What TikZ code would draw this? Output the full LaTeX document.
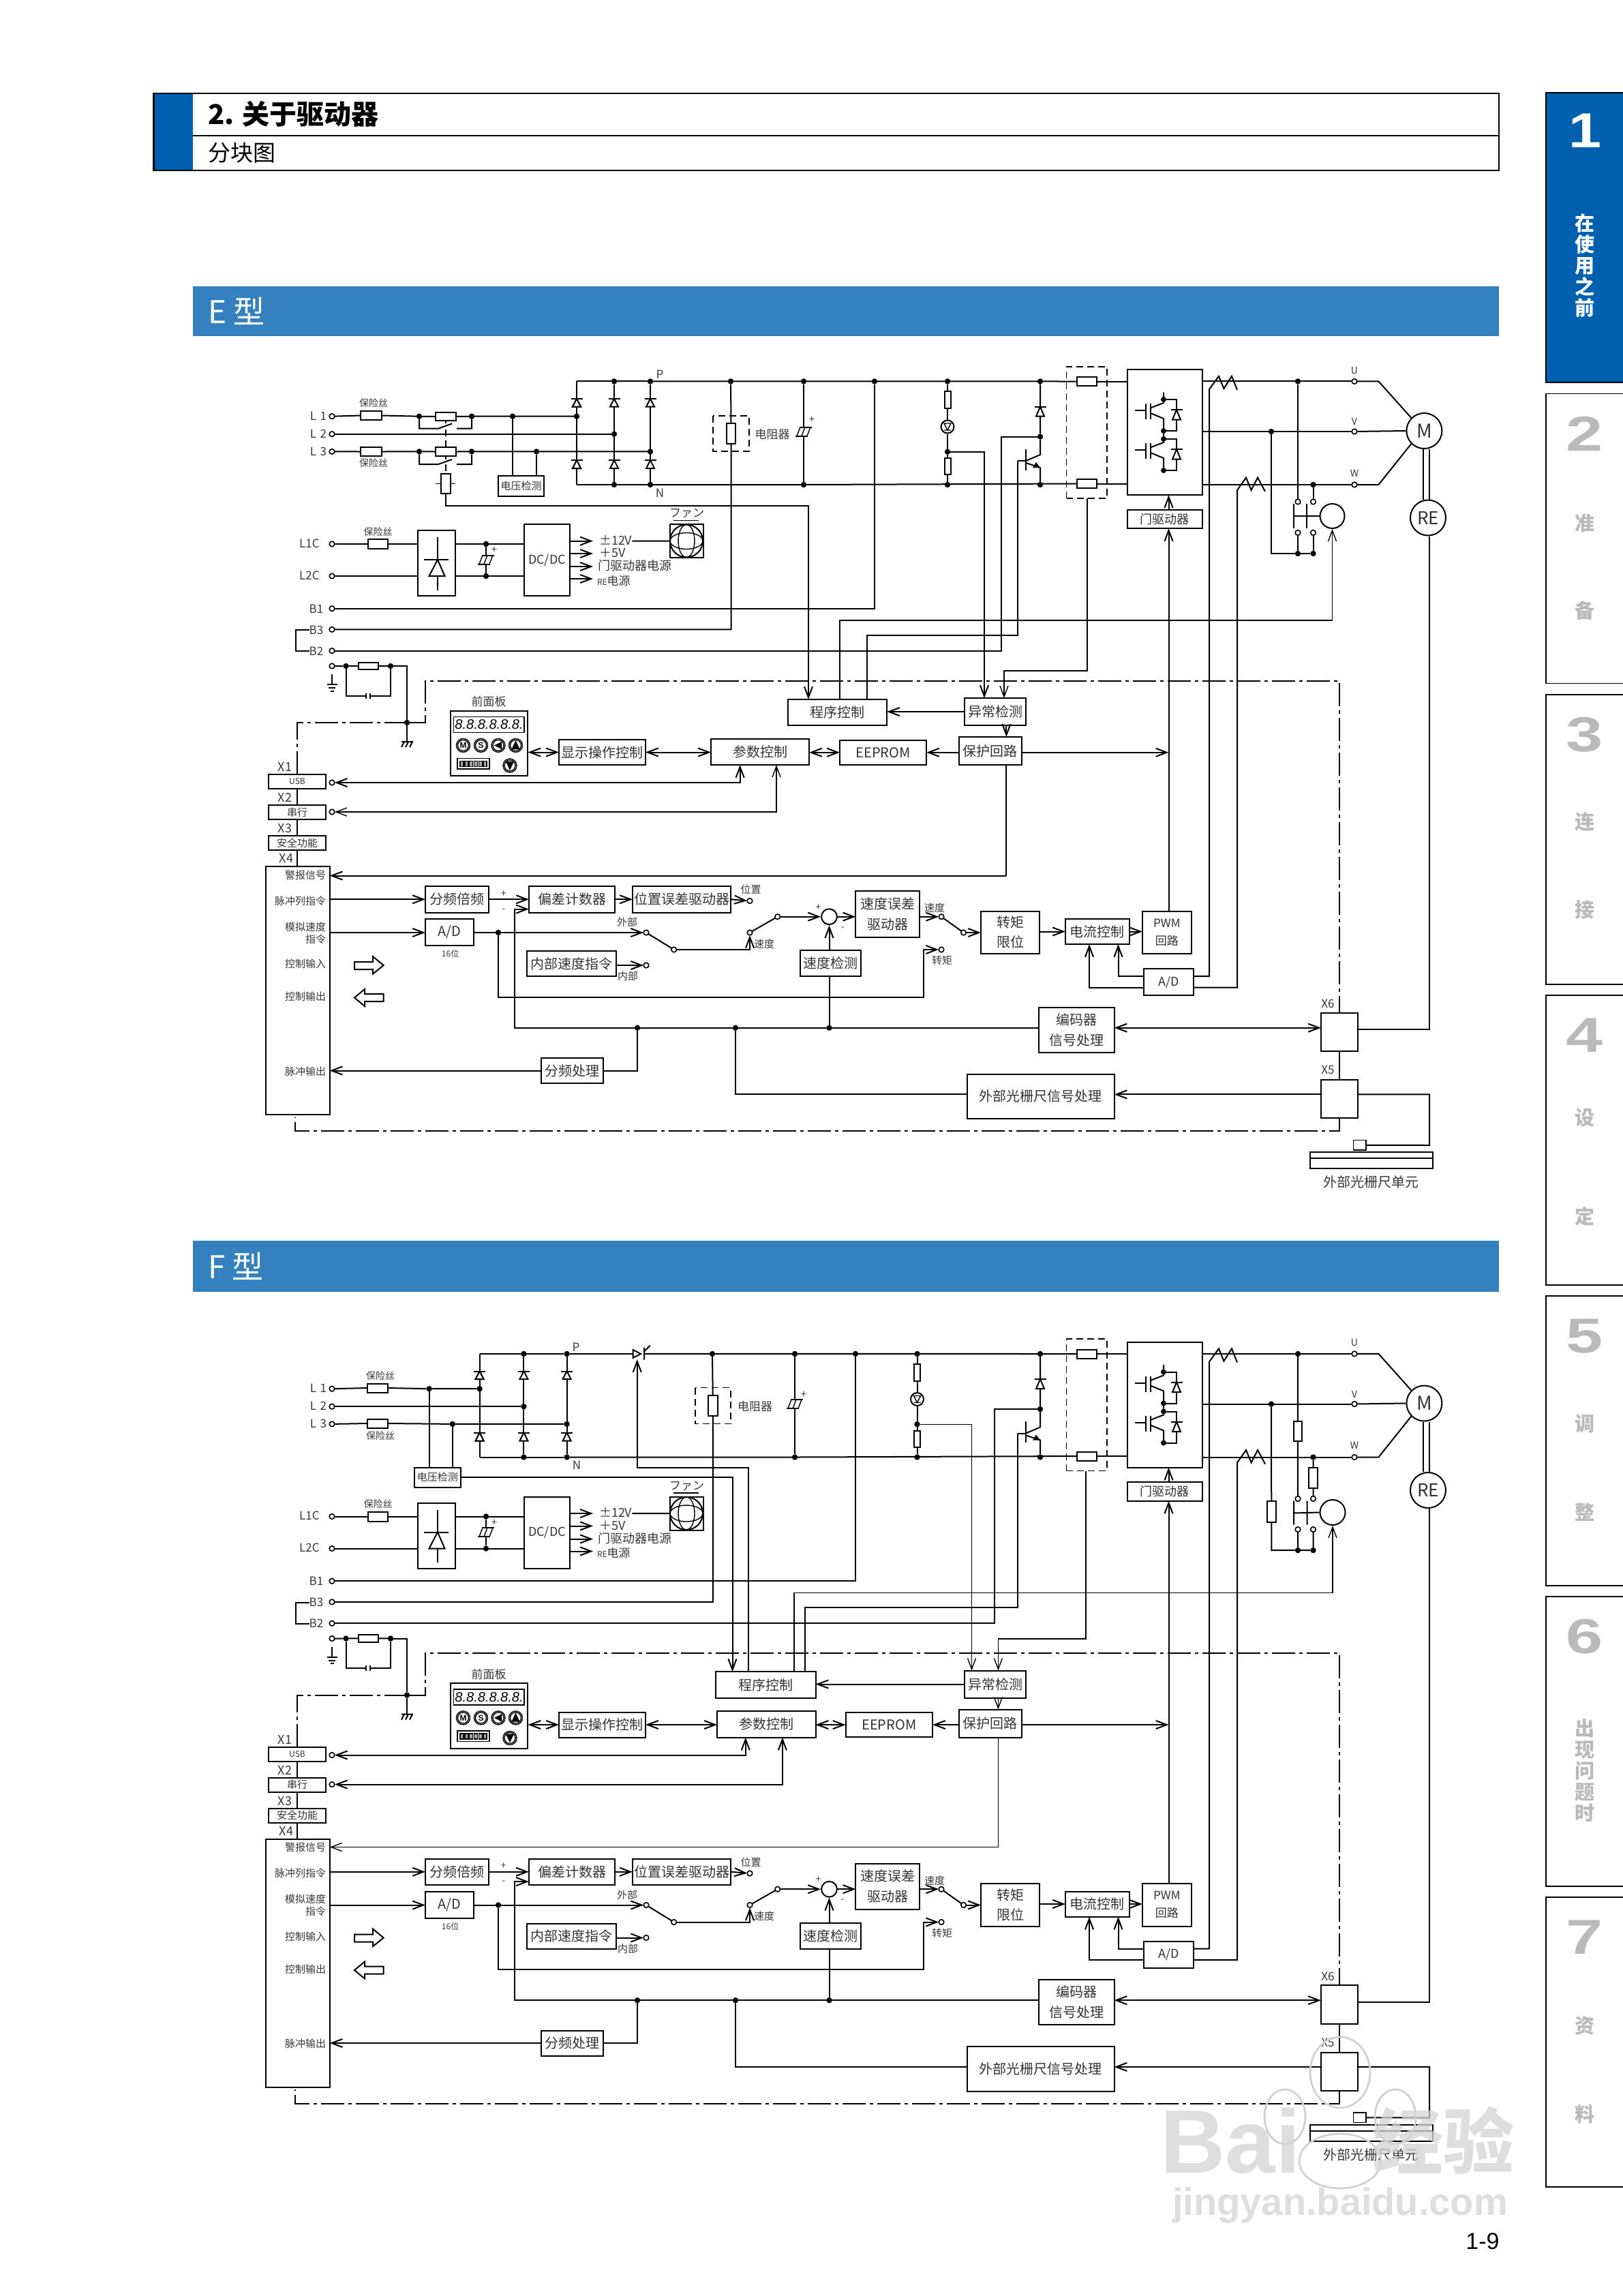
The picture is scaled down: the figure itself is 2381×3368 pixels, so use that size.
\documentclass[tikz,border=0pt]{standalone}
\usepackage{fontspec}
\usetikzlibrary{arrows.meta}
\setmainfont{Noto Sans CJK SC}
\newfontfamily\latf{Liberation Sans}
\definecolor{hblue}{HTML}{0060B0}
\definecolor{bandblue}{HTML}{3580BF}
\tikzset{
 >={Straight Barb[length=8pt,width=6pt]},
 ln/.style={line width=1pt},
 thn/.style={line width=.7pt},
 arr/.style={ln,->},
 barr/.style={ln,<->},
 dd/.style={line width=1pt,dash pattern=on 17pt off 3pt on 2.5pt off 3pt},
 dsh/.style={line width=.9pt,dash pattern=on 5pt off 3pt},
 t12/.style={font=\fontsize{6}{7}\selectfont},
 t14/.style={font=\fontsize{7}{8.5}\selectfont},
 t15/.style={font=\fontsize{7.5}{9}\selectfont},
 t17/.style={font=\fontsize{8.5}{10}\selectfont},
 t18/.style={font=\fontsize{9}{11}\selectfont},
 t20/.style={font=\fontsize{10}{12}\selectfont},
 box/.style={draw,ln,fill=white,rectangle,inner sep=0pt,outer sep=0pt,align=center,text=black!80,t20},
 txt/.style={inner sep=0pt,outer sep=0pt,align=center,text=black!78,t15},
 dot/.style={circle,fill=black,inner sep=0pt,outer sep=0pt,minimum size=4.2pt},
 term/.style={circle,draw,line width=.8pt,fill=white,inner sep=0pt,outer sep=0pt,minimum size=3.8pt},
}
\newcommand{\rbx}[7][]{\pgfmathsetmacro\bxw{abs((#5)-(#3))*.5}\pgfmathsetmacro\bxh{abs((#6)-(#4))*.5}\node[box,minimum width=\bxw pt,minimum height=\bxh pt,#1] (\p-#2) at ({((#3)+(#5))/2},{((#4)+(#6))/2}) {#7};}
\newcommand{\rtx}[5][]{\node[txt,#1] (\p-#2) at (#3,#4) {#5};}
\newcommand{\rdn}[3]{\node[dot] (\p-#1) at (#2,#3) {};}
\newcommand{\rtm}[3]{\node[term] (\p-#1) at (#2,#3) {};}
\newcommand{\dioU}[4]{\draw[ln,fill=white] (#1,#2)--({#1-#4},#3)--({#1+#4},#3)--cycle; \draw[ln] ({#1-#4-2.5},#2)--({#1+#4+2.5},#2);}
\newcommand{\capsym}[2]{\fill[white] ({#1-10},{#2-6}) rectangle ({#1+10},{#2+6});
 \draw[ln] ({#1-6},{#2-6.5})--({#1+12},{#2-6.5}) ({#1-12},{#2+6.5})--({#1+6},{#2+6.5});
 \draw[thn] ({#1-5},{#2-6.5})--({#1-10},{#2+6.5}) ({#1+2},{#2-6.5})--({#1-3},{#2+6.5}) ({#1+10},{#2-6.5})--({#1+5},{#2+6.5});}
\newcommand{\igbt}[1]{\begin{scope}[shift={(0,#1)}]
 \draw[ln] (1665,602)--(1681,602) (1681,592)--(1681,615) (1687.6,592)--(1687.6,615);
 \draw[ln] (1687.6,598.5)--(1707,591)--(1707,575.5) (1687.6,606)--(1707,614)--(1707,632);
 \draw[ln] (1707,586)--(1726,586)--(1726,632)--(1707,632);
 \dioU{1726}{601}{615.7}{6}
 \fill (1707,586) circle[radius=2pt]; \fill (1707,632) circle[radius=2pt];
\end{scope}}
\newcommand{\pbtn}[4]{\node[circle,draw,thn,fill=white,inner sep=0pt,minimum size=10pt] (\p-#1) at (#2,#3) {}; \draw[thn] (#2,#3) circle[radius=4pt]; #4}
% ---------- parts shared by both diagrams (local coordinates of type E)
\newcommand{\bridge}[3]{
 \rdn{pa}{#2}{559.4}\rdn{pb}{#3}{559.4}\rdn{na}{#2}{711}\rdn{nb}{#3}{711}
 \rdn{j1}{#1}{610.7}\rdn{j2}{#2}{636.7}\rdn{j3}{#3}{662.4}
 \coordinate (\p-pc) at (#1,559.4); \coordinate (\p-nc) at (#1,711);
 \draw[ln] (\p-pc)--(\p-nc) (\p-pa)--(\p-na) (\p-pb)--(\p-nb);
 \draw[ln] (\p-pc)--(\p-pb) (\p-nc)--(\p-nb);
 \foreach \xx in {#1,#2,#3} {\dioU{\xx}{585}{596.5}{6}\dioU{\xx}{675}{687}{6}}
 \draw[ln] (\p-L2)--(\p-j2);
}
\newcommand{\lampchain}[1]{
 \rdn{lt}{#1}{559.4}\rdn{lm}{#1}{662.7}\rdn{lb}{#1}{711}
 \rbx{lr1}{#1-4.5}{574}{#1+4.5}{599}{}
 \rbx{lr2}{#1-4.5}{672}{#1+4.5}{696}{}
 \node[circle,draw,ln,fill=white,inner sep=0pt,minimum size=9.5pt] (\p-lamp) at (#1,626) {};
 \draw[thn] ({#1-5},621)--({#1+5},621)--(#1,631)--cycle ({#1-5},631)--({#1+5},631);
 \draw[ln] (\p-lt)--(\p-lr1.north) (\p-lr1.south)--(\p-lamp.north) (\p-lamp.south)--(\p-lm)--(\p-lr2.north) (\p-lr2.south)--(\p-lb);
}
\newcommand{\commonparts}{
 \rtm{L1}{487}{610.7}\rtm{L2}{487}{636.7}\rtm{L3}{487}{662.4}
 \rtx[t17]{tL1}{467}{610}{L\,\,1}\rtx[t17]{tL2}{467}{636}{L\,\,2}\rtx[t17]{tL3}{467}{662}{L\,\,3}
 % control supply
 \rtm{L1C}{487}{798}\rtm{L2C}{487}{845}
 \rtx[t17]{tL1C}{454}{797}{L1C}\rtx[t17]{tL2C}{454}{844}{L2C}
 \rbx{fc}{540}{791}{569}{805}{}
 \rtx[t14]{lfc}{554.5}{780}{保险丝}
 \rbx{br}{613}{778}{668}{874}{}
 \draw[ln] (642,788)--(642,821) (622,821)--(658,821) (642,845)--(642,865.6);
 \draw[ln] (642,821)--(629.5,845)--(652.5,845)--cycle;
 \rbx[t18]{dc}{769}{769}{836}{874}{DC/DC}
 \rdn{c1}{713}{798}\rdn{c2}{713}{845}
 \draw[ln] (\p-L1C)--(\p-fc.west) (\p-fc.east)--(\p-br.west |- \p-fc);
 \draw[ln] (\p-L2C)--(\p-br.west |- \p-L2C);
 \draw[ln] (\p-br.east |- \p-c1)--(\p-c1)--(\p-dc.west |- \p-c1);
 \draw[ln] (\p-br.east |- \p-c2)--(\p-c2)--(\p-dc.west |- \p-c2);
 \draw[ln] (\p-c1)--(\p-c2);
 \capsym{713}{821}
 \rtx[t15]{cplus}{725}{807}{+}
 \coordinate (\p-o1) at (870,793.6);\coordinate (\p-o2) at (870,812);\coordinate (\p-o3) at (870,831);\coordinate (\p-o4) at (870,849);
 \draw[arr] (\p-dc.east |- \p-o1)--(\p-o1);
 \draw[arr] (\p-dc.east |- \p-o2)--(\p-o2);
 \draw[arr] (\p-dc.east |- \p-o3)--(\p-o3);
 \draw[arr] (\p-dc.east |- \p-o4)--(\p-o4);
 \rtx[t18,anchor=west]{l12}{879}{792}{±12V}
 \rtx[t18,anchor=west]{l5}{879}{811}{＋5V}
 \rtx[t18,anchor=west]{lg}{877}{830}{门驱动器电源}
 \rtx[t17,anchor=west]{lre}{876}{852}{{\fontsize{6}{7}\selectfont RE}电源}
 \rbx{fan}{982.5}{769}{1031.5}{818}{}
 \draw[ln] (\p-fan.center) circle[radius=12pt];
 \draw[thn] (\p-fan.center) circle[x radius=6pt,y radius=12pt];
 \draw[thn] (\p-fan.center) circle[x radius=12pt,y radius=6pt];
 \draw[ln] (\p-l12.east |- \p-o1)--(\p-fan.west);
 \rtx[t17]{lfan}{1007.5}{753}{ファン}
 \draw[thn] (988,763.4)--(1025,763.4);
 % B terminals
 \rtm{B1}{487}{892.7}\rtm{B3}{487}{923.4}\rtm{B2}{487}{954.7}
 \rtx[t17]{tB1}{464}{893}{B1}\rtx[t17]{tB3}{464}{924}{B3}\rtx[t17]{tB2}{464}{955}{B2}
 \draw[ln] (\p-tB3.west)--++(-20,0)|-(\p-tB2.west);
 % protective earth
 \rtm{PE}{487}{977}\rdn{pe1}{507.6}{977}\rdn{pe2}{573}{977}\rdn{g2}{597}{1060}
 \rbx{per}{526}{971.6}{555}{982}{}
 \coordinate (\p-pec) at (597,977);\coordinate (\p-g3) at (597,1088);
 \draw[ln] (\p-PE)--(\p-pe1)--(\p-per.west) (\p-per.east)--(\p-pe2);
 \draw[ln] (\p-pe2)--(\p-pec)--(\p-g2)--(\p-g3);
 \draw[ln] (\p-pe1)|-(537,1020.6) (543,1020.6)-|(\p-pe2);
 \draw[thn] (537,1016.6)--(537,1024.6) (543,1016.6)--(543,1024.6);
 \draw[ln] (487,989)--(487,1004) (479.5,1004)--(495,1004) (482,1009)--(492,1009) (485,1013.7)--(490,1013.7);
 \draw[ln] (589,1088)--(606,1088) (593,1088)--(589,1096) (599,1088)--(595,1096) (605,1088)--(601,1096);
 % connectors column
 \rbx[t12]{usb}{394}{1136}{478}{1157}{USB}
 \rbx[t15]{ser}{394}{1181}{478}{1202}{串行}
 \rbx[t15]{saf}{394}{1226}{478}{1247}{安全功能}
 \rbx{X4}{390}{1271}{483.6}{1635}{}
 \rtm{tUSB}{487}{1148}\rtm{tSER}{487}{1191}
 \rtx[t18]{lX1}{418}{1125}{X1}\rtx[t18]{lX2}{418}{1170}{X2}\rtx[t18]{lX3}{418}{1215}{X3}\rtx[t18]{lX4}{420}{1259}{X4}
 \draw[ln] (\p-usb.south)--(\p-ser.north) (\p-ser.south)--(\p-saf.north) (\p-saf.south)--(\p-X4.north -| \p-saf.south);
 \rtx[anchor=east]{s1}{478}{1283.6}{警报信号}
 \rtx[anchor=east]{s2}{478}{1321.5}{脉冲列指令}
 \rtx[anchor=east]{s3}{478}{1359.5}{模拟速度}
 \rtx[anchor=east]{s4}{478}{1377.5}{指令}
 \rtx[anchor=east]{s5}{478}{1414}{控制输入}
 \rtx[anchor=east]{s6}{478}{1462}{控制输出}
 \rtx[anchor=east]{s7}{478}{1571.5}{脉冲输出}
 \draw[ln] (520,1411)--(547,1411)--(547,1403)--(562.6,1416)--(547,1428.7)--(547,1422)--(520,1422)--cycle;
 \draw[ln] (562.6,1458)--(535,1458)--(535,1451)--(520,1463.5)--(535,1476)--(535,1469)--(562.6,1469)--cycle;
 % front panel
 \rtx[t17]{lpanel}{717}{1029}{前面板}
 \rbx{panel}{660.6}{1042.5}{774.4}{1138}{}
 \rbx[thn]{disp}{665.7}{1051.4}{769}{1074.6}{}
 \node[inner sep=0pt,text=black] (\p-seg) at (717.5,1063) {\latf\itshape\fontsize{10}{12}\selectfont 8.8.8.8.8.8.};
 \pbtn{bM}{679.5}{1093.4}{\node[inner sep=0pt] at (679.5,1093.4) {\latf\bfseries\fontsize{6}{6}\selectfont M};}
 \pbtn{bS}{705.5}{1093.4}{\node[inner sep=0pt] at (705.5,1093.4) {\latf\bfseries\fontsize{6}{6}\selectfont S};}
 \pbtn{bL}{731}{1093.4}{\fill (736,1088)--(725,1093.4)--(736,1099)--cycle;}
 \pbtn{bU}{756.5}{1093.4}{\fill (750.5,1099)--(756.5,1086)--(762.5,1099)--cycle;}
 \pbtn{bD}{748}{1123}{\fill (742,1117)--(754,1117)--(748,1130)--cycle;}
 \rbx[thn]{dip}{671}{1112.6}{718}{1128}{}
 \foreach \ii in {0,...,5} {\draw[thn,fill=black!35] ({675+\ii*6.8},1116.5) rectangle ++(5,8);}
 \rbx{dsp}{820}{1085}{947}{1122}{显示操作控制}
 \rbx{prot}{1407.4}{1081}{1498.5}{1122}{保护回路}
 \rbx{exc}{1415}{1024}{1505}{1064}{异常检测}
 \draw[barr] (\p-panel.east |- \p-dsp)--(\p-dsp.west);
 \draw[barr] (\p-dsp.east)--(\p-param.west |- \p-dsp);
 \draw[barr] (\p-param.east |- \p-eep)--(\p-eep.west);
 \draw[arr] (\p-prot.west |- \p-eep)--(\p-eep.east);
 \draw[arr] (\p-exc.west)--(\p-prog.east |- \p-exc);
 \draw[arr] (\p-prot.east |- \p-eep)--(1714.5,0 |- \p-eep);
 % servo chain
 \rbx{fd}{624}{1300}{717}{1338.5}{分频倍频}
 \rbx{dev}{776}{1300}{902}{1338.5}{偏差计数器}
 \rbx{pe}{928}{1300}{1072}{1338.5}{位置误差驱动器}
 \rbx{ad1}{624}{1348}{695}{1387}{A/D}
 \rtx[t12]{l16}{660.6}{1399}{16位}
 \rbx{inn}{773}{1395}{904}{1432}{内部速度指令}
 \rbx{fp}{793.8}{1552}{885}{1589}{分频处理}
 \rtm{tPos}{1100}{1321.5}\rtm{tExt}{948}{1368}\rtm{tInn}{948}{1416}\rtm{sw1}{988.7}{1393}\rtm{tC}{1100}{1368}\rtm{tOut}{1140.7}{1344.7}
 \rtx{lpos}{1101.5}{1305}{位置}\rtx{lext}{920}{1353}{外部}\rtx{linn}{921}{1432}{内部}\rtx{lspd}{1121}{1384.5}{速度}
 \rtx[t14]{lp}{738.7}{1311}{+}\rtx[t14]{lm}{738.7}{1335}{-}
 \node[circle,draw,ln,fill=white,inner sep=0pt,minimum size=11.4pt] (\p-sum) at (1216.5,1344.7) {};
 \rtx[t14]{lsp}{1200.5}{1331}{+}\rtx[t14]{lsm}{1236}{1362}{-}
 \rbx[font=\fontsize{10}{15}\selectfont]{spe}{1255.4}{1307}{1349}{1374.5}{速度误差\\驱动器}
 \rbx{sd}{1173.7}{1394.4}{1263}{1432}{速度检测}
 \rtm{tV1}{1381}{1344.7}\rtm{tT}{1381}{1393}\rtm{tV2}{1413.5}{1368}
 \rtx{lv1}{1371}{1332}{速度}\rtx{ltq}{1382}{1409}{转矩}
 \rbx[font=\fontsize{10}{14.5}\selectfont]{tq}{1439}{1336.7}{1525}{1399}{转矩\\限位}
 \rbx{cc}{1563}{1348}{1656.6}{1385}{电流控制}
 \rbx[font=\fontsize{8.5}{13}\selectfont]{pwm}{1676}{1336.7}{1747.7}{1399}{PWM\\回路}
 \rbx[t18]{ad2}{1678}{1421}{1751}{1460}{A/D}
 \rbx[font=\fontsize{10}{15}\selectfont]{enc}{1524}{1477.5}{1634.5}{1543.7}{编码器\\信号处理}
 \rbx{ext}{1419}{1575.5}{1634.5}{1641}{外部光栅尺信号处理}
 \rbx{X6}{1938}{1485.5}{1991.5}{1542}{}
 \rbx{X5}{1938}{1584}{1991.5}{1640}{}
 \rtx[t17]{lX6}{1948}{1472.5}{X6}\rtx[t17]{lX5}{1948}{1569.5}{X5}
 \rbx[thn]{sh}{1985.5}{1672.5}{2004}{1687}{}
 \rbx{scl}{1922}{1690}{2102}{1714}{}
 \draw[ln] (\p-scl.west |- 0,1699)--(\p-scl.east |- 0,1699);
 \rtx[t20]{lscl}{2011}{1734}{外部光栅尺单元}
 \rdn{jAD}{731}{1368}\rdn{jb1}{935}{1507.7}\rdn{jb2}{1079}{1507.7}\rdn{jb3}{1216.5}{1507.7}
 \draw[arr] (\p-X4.east |- \p-fd)--(\p-fd.west);
 \draw[arr] (\p-fd.east)--(\p-dev.west);
 \draw[arr] (\p-dev.east)--(\p-pe.west);
 \draw[arr] (\p-pe.east)--(\p-tPos);
 \draw[arr] (\p-X4.east |- \p-jAD)--(\p-ad1.west |- \p-jAD);
 \draw[ln] (\p-ad1.east |- \p-jAD)--(\p-jAD);
 \draw[arr] (\p-jAD)--(\p-tExt);
 \draw[arr] (\p-inn.east |- \p-tInn)--(\p-tInn);
 \draw[ln] (\p-tExt)--(\p-sw1) (\p-tC)--(\p-tOut);
 \draw[arr] (\p-sw1)-|(\p-tC);
 \draw[arr] (\p-tOut)--(\p-sum.west);
 \draw[arr] (\p-sum.east)--(\p-spe.west |- \p-sum);
 \draw[arr] (\p-spe.east |- \p-tV1)--(\p-tV1);
 \draw[ln] (\p-tV1)--(\p-tV2);
 \draw[arr] (\p-tV2)--(\p-tq.west |- \p-tV2);
 \draw[arr] (\p-tq.east |- \p-cc)--(\p-cc.west);
 \draw[arr] (\p-cc.east)--(\p-pwm.west |- \p-cc);
 \draw[arr] (\p-jAD)|-(1354.5,1462.6)|-(\p-tT);
 \draw[arr] (\p-enc.west |- \p-jb1)--(754.5,1507.7)--(754.5,1333.6)--(\p-dev.west |- 0,1333.6);
 \draw[ln] (\p-fp.east)-|(\p-jb1);
 \draw[arr] (\p-fp.west)--(\p-X4.east |- \p-fp);
 \draw[ln] (\p-jb2)|-(\p-ext.west |- 0,1605.4) ;
 \draw[ln] (\p-jb3)--(\p-sum.south |- \p-sd.south);
 \draw[arr] (\p-sum.south |- \p-sd.north)--(\p-sum.south);
 \draw[barr] (\p-enc.east |- \p-jb1)--(\p-X6.west |- \p-jb1);
 \draw[arr] (\p-X5.west |- 0,1605.4)--(\p-ext.east |- 0,1605.4);
 \draw[ln] (\p-X6.south)--(\p-X5.north);
 \draw[ln] (\p-X5.east |- 0,1605.4)--(2097,1605.4)--(2097,1680)--(\p-sh.east);
 \draw[dd] (\p-usb.north)|-(\p-g2.west);
 \draw[dd] (\p-g2.east)--(624,1060)--(624,998.7)--(\p-X6.north |- 0,998.7)--(\p-X6.north);
 \draw[dd] (\p-X5.south)--(\p-X5.south |- 0,1659)--(432.5,1659)--(432.5,1638.5);
 % power stage
 \node[draw=none,rectangle,inner sep=0pt,outer sep=0pt,minimum width=29.75pt,minimum height=96.7pt] (\p-dbox) at (1594.25,634.3) {};
 \draw[dsh] (\p-dbox.south west) rectangle (\p-dbox.north east);
 \rbx{Rp}{1580}{553}{1609}{566}{}
 \rbx{Rn}{1580}{703}{1609}{716}{}
 \rbx{inv}{1654}{542}{1763.5}{726}{}
 \igbt{0}\igbt{58}
 \rbx[t18]{gd}{1654}{747.7}{1763.5}{775}{门驱动器}
 \draw[arr] (1714.5,0 |- \p-pwm.north)--(1714.5,0 |- \p-gd.south);
 \draw[arr] (1714.5,0 |- \p-gd.north)--(1714.5,0 |- \p-inv.south);
 % brake transistor chain
 \rdn{tP}{1526}{559.4}\rdn{tM}{1526}{640.5}\rdn{tN}{1526}{711}
 \draw[ln] (\p-tP)--(\p-tM)--(1526,667)--(1505,676) (1505,679)--(1526,686)--(\p-tN);
 \dioU{1526}{596.5}{610.7}{6}
 \draw[ln] (1505,658.5)--(1505,689.5);
 \fill (1526,686)--(1515,686)--(1520,678)--cycle;
 % motor
 \rtm{tU}{1987}{559.4}\rtm{tVv}{1987}{633}\rtm{tW}{1987}{711}
 \rtx[t14]{lU}{1987}{543}{U}\rtx[t14]{lV}{1987}{618.7}{V}\rtx[t14]{lW}{1987}{694}{W}
 \node[circle,draw,ln,fill=white,inner sep=0pt,minimum size=26pt,text=black!80,font=\fontsize{14}{14}\selectfont] (\p-M) at (2089.4,632) {M};
 \node[circle,draw,ln,fill=white,inner sep=0pt,minimum size=26pt,text=black!80,font=\fontsize{13}{13}\selectfont] (\p-RE) at (2095,759.5) {RE};
 \draw[ln] (\p-tU)--(2022.4,559.4)--(\p-M.135);
 \draw[ln] (\p-tW)--(2022.4,711)--(\p-M.225);
 \draw[ln] (\p-tVv)--(\p-M.west);
 \draw[ln] (2087.5,0 |- \p-M.south)--(2087.5,0 |- \p-RE.north) (2097,0 |- \p-M.south)--(2097,0 |- \p-RE.north);
 \draw[ln] (\p-X6.east |- 0,1510)-|(2097.4,0 |- \p-RE.south);
 % buses right of dashed box
 \rdn{jU}{1904}{559.4}\rdn{jV}{1865}{633}\rdn{jW}{1926.5}{711}
 \draw[ln] (\p-Rp.east)--(\p-inv.west |- \p-Rp) (\p-Rn.east)--(\p-inv.west |- \p-Rn);
 \draw[ln] (\p-inv.east |- \p-tU)--(\p-tU);
 \draw[ln] (\p-inv.east |- \p-tVv)--(\p-tVv);
 \draw[ln] (\p-inv.east |- \p-tW)--(\p-tW);
 % current transformers
 \draw[ln] (\p-ad2.east |- 0,1432)-|(1774,571)--(1788,551.8)--(1795.4,570)--(1807,551.8)--(1815,572);
 \draw[ln] (\p-ad2.east |- 0,1448.6)-|(1815,719)--(1828,700.6)--(1835.6,719)--(1845,700.6)--(1856,721);
 \draw[arr] (\p-ad2.west |- 0,1432)-|(1640.5,0 |- \p-cc.south);
 \draw[arr] (\p-ad2.west |- 0,1448.6)-|(1598,0 |- \p-cc.south);
}
\begin{document}
\begin{tikzpicture}[x=.5pt,y=-.5pt]
\useasboundingbox (0,0) rectangle (2381,3368);
\fill[white] (0,0) rectangle (2381,3368);
\def\p{H}
% ---------- page header
\fill[hblue] (225.5,136.7) rectangle (283,250);
\draw[line width=1.2pt] (225.5,136.7) rectangle (2199,250);
\draw[line width=1.2pt] (283,198.7) -- (2199,198.7);
\rtx[anchor=west,text=black,font=\bfseries\fontsize{20}{24}\selectfont]{title}{305}{167}{2. 关于驱动器}
\rtx[anchor=west,text=black,font=\fontsize{16.5}{20}\selectfont]{sub}{305}{224}{分块图}
\fill[bandblue] (283,420) rectangle (2199,492.7);
\fill[bandblue] (283,1820) rectangle (2199,1895);
\rtx[anchor=west,text=white,font=\fontsize{23}{27}\selectfont]{bandE}{305}{456}{E 型}
\rtx[anchor=west,text=white,font=\fontsize{23}{27}\selectfont]{bandF}{305}{1857}{F 型}
% ---------- side tabs
\fill[hblue] (2268,136) rectangle (2381,561);
\draw[line width=.7pt] (2381,136)--(2268,136)--(2268,561)--(2381,561);
\foreach \nn/\yy in {2/577.5,3/1019,4/1460,5/1901,6/2342,7/2783} {
 \draw[line width=.7pt] (2381,\yy)--(2268,\yy)--(2268,\yy+425)--(2381,\yy+425);
 \node[inner sep=0pt,text=black!27] at (2325,\yy+59) {\latf\bfseries\fontsize{36}{36}\selectfont\scalebox{1.35}[1]{\nn}};
}
\node[inner sep=0pt,text=white] (\p-n1) at (2325,192) {\latf\bfseries\fontsize{36}{36}\selectfont\scalebox{1.2}[1]{1}};
\rtx[text=white,font=\bfseries\fontsize{14.5}{15.5}\selectfont]{tb1}{2325}{389}{在\\使\\用\\之\\前}
\tikzset{tabt/.style={text=black!27,font=\bfseries\fontsize{14.5}{15.5}\selectfont}}
\rtx[tabt]{t2a}{2325}{767}{准}\rtx[tabt]{t2b}{2325}{895}{备}
\rtx[tabt]{t3a}{2325}{1206}{连}\rtx[tabt]{t3b}{2325}{1334.5}{接}
\rtx[tabt]{t4a}{2325}{1640}{设}\rtx[tabt]{t4b}{2325}{1784}{定}
\rtx[tabt]{t5a}{2325}{2089}{调}\rtx[tabt]{t5b}{2325}{2218}{整}
\rtx[tabt]{t6a}{2325}{2597}{出\\现\\问\\题\\时}
\rtx[tabt]{t7a}{2325}{2972}{资}\rtx[tabt]{t7b}{2325}{3101}{料}
\node[inner sep=0pt,text=black] (\p-page) at (2175,3288) {\latf\fontsize{17}{20}\selectfont 1-9};
% ================= E type
\def\p{E}
\rbx{prog}{1155.6}{1026}{1301}{1064}{程序控制}
\rbx{param}{1043}{1084}{1187}{1122}{参数控制}
\rbx{eep}{1232}{1085.5}{1359}{1122}{EEPROM}
\commonparts
\bridge{846}{901}{954}
\rtx[t17]{lP}{968}{549.5}{P}\rtx[t17]{lN}{968}{723}{N}
\rbx{f1}{529}{603}{560}{616}{}\rbx{f3}{529}{656}{560}{669}{}
\rtx[t14]{lf1}{548}{591.6}{保险丝}\rtx[t14]{lf3}{548}{679.6}{保险丝}
\rdn{a1}{615}{610.7}\rdn{a2}{692}{610.7}\rdn{a3}{615}{662.4}\rdn{a4}{692}{662.4}
\rbx{r1}{639}{605}{669}{617}{}\rbx{r3}{639}{656}{669}{669}{}
\rdn{v1}{752}{610.7}\rdn{v3}{787}{662.4}
\rbx[t15]{vd}{731}{698}{798}{728}{电压检测}
\rbx{coil}{647}{695}{661}{724}{}
\draw[thn] (639,709.4)--(647,709.4) (661,709.4)--(668,709.4);
\draw[ln] (\p-L1)--(\p-f1.west) (\p-f1.east)--(\p-a1)--(\p-r1.west) (\p-r1.east)--(\p-a2)--(\p-v1)--(\p-j1);
\draw[ln] (\p-L3)--(\p-f3.west) (\p-f3.east)--(\p-a3)--(\p-r3.west) (\p-r3.east)--(\p-a4)--(\p-v3)--(\p-j3);
\draw[ln] (\p-a1)|-(643,628.7)--(663,621.4) (670,628.7)-|(\p-a2);
\draw[ln] (\p-a3)|-(643,681)--(663,674) (670,681)-|(\p-a4);
\draw[dsh] (654,621.4)--(\p-r1.south) (\p-r3.north)--(654,628.7) (\p-r3.south)--(654,674) (654,681)--(\p-coil.north);
\draw[ln] (\p-v1)--(\p-vd.north -| \p-v1) (\p-v3)--(\p-vd.north -| \p-v3);
\draw[arr] (\p-coil.south)--(654,742)--(1186,742)--(1186,0 |- \p-prog.north);
\dioU{846}{585}{596.5}{6}\dioU{846}{675}{687}{6}
\rdn{jb}{1072}{559.4}\rdn{jc}{1179}{559.4}\rdn{jcn}{1179}{711}\rdn{jB1}{1283}{559.4}
\rbx{RB}{1066}{620.6}{1079}{651}{}
\draw[dsh] (1046,610) rectangle (1099,662);
\rtx[t17]{lR}{1133}{637}{电阻器}
\draw[ln] (\p-jb)--(\p-RB.north) (\p-B3)-|(\p-RB.south);
\draw[ln] (\p-pb)--(\p-jb)--(\p-jc)--(\p-jB1)--(\p-Rp.west);
\draw[ln] (\p-nb)--(\p-jcn)--(\p-Rn.west);
\draw[ln] (\p-jc)--(\p-jcn);\capsym{1179}{633}
\rtx[t15]{lcp}{1191}{616}{+}
\lampchain{1390}
\draw[ln] (\p-B1)-|(\p-jB1);
\draw[ln] (\p-B2)-|(1469,640.5)--(\p-tM);
\draw[ln] (1492.5,676)--(1505,676);
\draw[ln] (1272.4,0 |- \p-prog.north)|-(1492.5,932)--(1492.5,676);
\draw[arr] (\p-lm)-|(1444,0 |- \p-exc.north);
\draw[thn,->] (\p-dbox.south -| 1595,0)|-(1473,984)--(1473,0 |- \p-exc.north);
\draw[arr] (1476.4,0 |- \p-exc.south)--(1476.4,0 |- \p-prot.north);
\draw[ln] (1476.4,0 |- \p-prot.south)--(1476.4,1284.5);
\draw[arr] (1476.4,1284.5)--(\p-X4.east |- 0,1284.5);
\rdn{cb1}{1904}{812}\rdn{cb2}{1926.5}{812}
\rtm{cu1}{1904}{736}\rtm{cu2}{1926.5}{736}\rtm{cd1}{1904}{781.4}\rtm{cd2}{1926.5}{781.4}
\node[circle,draw,ln,fill=white,inner sep=0pt,minimum size=18pt] (\p-relay) at (1954.5,757) {};
\draw[ln] (\p-jU)--(\p-cu1) (\p-jW)--(\p-cu2) (\p-jV)|-(\p-cb1)--(\p-cb2) (\p-cd1)--(\p-cb1) (\p-cd2)--(\p-cb2);
\draw[ln] (1897.5,739)--(1897.5,774.5) (1916.6,739)--(1916.6,774.5) (1897.5,757)--(\p-relay.west);
\draw[ln] (1231.6,0 |- \p-prog.north)|-(1954.5,910);
\draw[thn,->] (1954.5,910)--(\p-relay.south);
\draw[barr] (\p-tUSB) -|(1085.6,0 |- \p-param.south);
\draw[thn,<->] (\p-tSER) -|(1139,0 |- \p-param.south);
% ================= F type
\begin{scope}[shift={(0,1426.5)}]
\def\p{F}
\rbx{prog}{1050}{1025.7}{1196.5}{1064}{程序控制}
\rbx{param}{1052}{1083}{1196.5}{1122}{参数控制}
\rbx{eep}{1240.6}{1085.4}{1368}{1121.7}{EEPROM}
\commonparts
\bridge{703.6}{768.4}{831.6}
\rtx[t17]{lP}{845}{549.5}{P}\rtx[t17]{lN}{846}{722.5}{N}
\rbx{f1}{539}{603}{569.4}{616}{}\rbx{f3}{539}{655}{569.4}{668}{}
\rtx[t14]{lf1}{558}{591.6}{保险丝}\rtx[t14]{lf3}{558}{679.6}{保险丝}
\rdn{v1}{629.6}{610.7}\rdn{v3}{663.8}{662.4}
\rbx[t15]{vd}{608}{726}{675.5}{755.4}{电压检测}
\draw[ln] (\p-L1)--(\p-f1.west) (\p-f1.east)--(\p-v1)--(\p-j1);
\draw[ln] (\p-L3)--(\p-f3.west) (\p-f3.east)--(\p-v3)--(\p-j3);
\draw[ln] (\p-v1)--(\p-vd.north -| \p-v1) (\p-v3)--(\p-vd.north -| \p-v3);
\dioU{703.6}{585}{596.5}{6}\dioU{703.6}{675}{687}{6}
% switch on the P bus
\coordinate (\p-sa) at (928.6,559.4);
\draw[ln] (\p-pb)--(\p-sa);
\draw[ln] (928.6,553.5)--(940,559.4)--(928.6,565.3)--cycle;
\draw[ln] (945,550)--(945,568) (945,556)--(953.6,547.2);
\rdn{jb}{1045}{559.4}\rdn{jc}{1166}{559.4}\rdn{jcn}{1166}{711}\rdn{jB1}{1255}{559.4}
\draw[ln] (945,559.4)--(\p-jb)--(\p-jc)--(\p-jB1)--(\p-Rp.west);
\draw[ln] (\p-nb)--(\p-jcn)--(\p-Rn.west);
\rbx{RB}{1039}{620}{1052.5}{650.6}{}
\draw[dsh] (1020,609) rectangle (1072,662);
\rtx[t17]{lR}{1107.6}{637}{电阻器}
\draw[ln] (\p-jb)--(\p-RB.north) (\p-B3)-|(\p-RB.south);
\draw[ln] (\p-jc)--(\p-jcn);\capsym{1166}{633}
\rtx[t15]{lcp}{1179}{619}{+}
\lampchain{1345.5}
\draw[ln] (\p-B1)-|(\p-jB1);
\draw[ln] (\p-B2)-|(1459.4,640.5)--(\p-tM);
\draw[ln] (1492.5,676)--(1505,676);
\draw[ln] (1181,0 |- \p-prog.north)|-(1492.5,931.8)--(1492.5,676);
\draw[arr] (1098,0 |- \p-prog.north)|-(934.7,726.3)--(934.7,567.5);
\draw[arr] (\p-vd.east)-|(1074.5,0 |- \p-prog.north);
\draw[thn,->] (\p-lm)-|(1425.5,0 |- \p-exc.north);
\draw[thn,->] (\p-dbox.south -| 1593,0)|-(1464.4,977.4)--(1464.4,0 |- \p-exc.north);
\draw[thn,->] (1464.4,0 |- \p-exc.south)--(1464.4,0 |- \p-prot.north);
\draw[thn] (1464.4,0 |- \p-prot.south)--(1464.4,1283);
\draw[thn,->] (1464.4,1283)--(\p-X4.east |- 0,1283);
\rdn{cb1}{1904}{847.6}\rdn{cb2}{1926.5}{847.6}
\rtm{cu1}{1904}{772}\rtm{cu2}{1926.5}{772}\rtm{cd1}{1904}{817}\rtm{cd2}{1926.5}{817}
\rbx{ru}{1897.6}{658}{1910}{687.7}{}
\rbx{rw}{1920}{726}{1933}{756.6}{}
\rbx{rv}{1859}{775}{1871.5}{806}{}
\node[circle,draw,ln,fill=white,inner sep=0pt,minimum size=18.5pt] (\p-relay) at (1955,792) {};
\draw[ln] (\p-jU)--(\p-ru.north) (\p-ru.south)--(\p-cu1) (\p-jW)--(\p-rw.north) (\p-rw.south)--(\p-cu2);
\draw[ln] (\p-jV)--(\p-rv.north) (\p-rv.south)|-(\p-cb1)--(\p-cb2) (\p-cd1)--(\p-cb1) (\p-cd2)--(\p-cb2);
\draw[ln] (1898,775)--(1898,810) (1917.6,775)--(1917.6,810) (1898,793)--(\p-relay.west);
\draw[thn,->] (1165,0 |- \p-prog.north)|-(1955,910)--(\p-relay.south);
\draw[barr] (\p-tUSB) -|(1093.8,0 |- \p-param.south);
\draw[barr] (\p-tSER) -|(1147.9,0 |- \p-param.south);
\end{scope}
% ---------- watermark
\begin{scope}[draw=black!18,line width=1.4pt,fill=white,fill opacity=.55]
\draw (1966,3040) circle[x radius=22pt,y radius=26pt];
\draw (1885,3105) circle[x radius=15pt,y radius=20pt];
\draw (2047,3105) circle[x radius=15pt,y radius=20pt];
\draw (1966,3170) circle[x radius=30pt,y radius=20pt];
\end{scope}
\node[inner sep=0pt,text=black!17,opacity=.75] (\p-wm1) at (1805,3140) {\latf\bfseries\fontsize{66}{70}\selectfont Bai};
\node[inner sep=0pt,text=black!17,opacity=.75] (\p-wm2) at (2117,3140) {\bfseries\fontsize{52}{56}\selectfont 经验};
\node[inner sep=0pt,text=black!17,opacity=.75] (\p-wm3) at (1966,3235) {\latf\bfseries\fontsize{28}{30}\selectfont jingyan.baidu.com};
\end{tikzpicture}
\end{document}
